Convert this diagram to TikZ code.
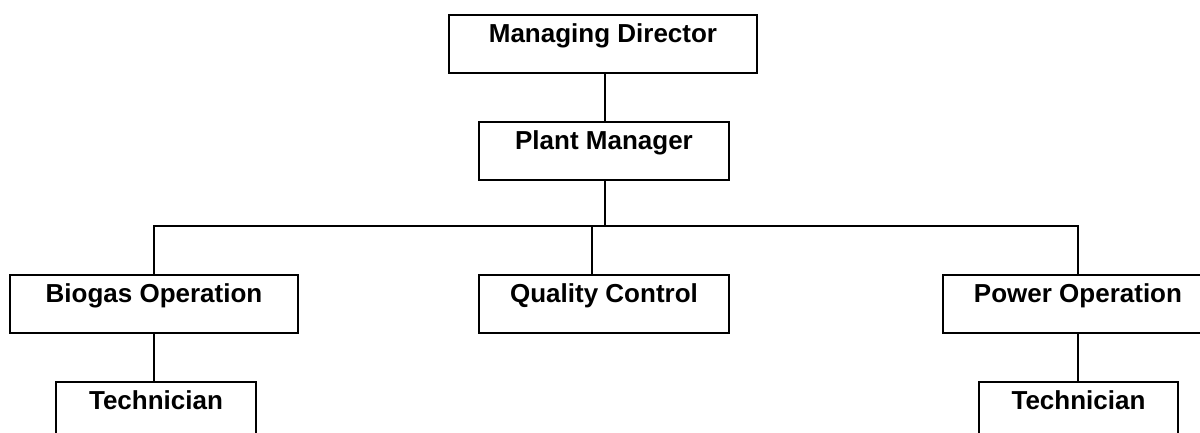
\documentclass[tikz,border=0pt]{standalone}
\usepackage{fontspec}
\setmainfont{Liberation Sans}
\usetikzlibrary{positioning,calc}

\tikzset{
  post/.style={draw, line width=1.6pt, inner sep=0pt, anchor=north,
    text height=28pt, text depth=30pt,
    font=\fontsize{26}{30}\selectfont\bfseries},
  link/.style={line width=1.6pt}
}

\begin{document}
\begin{tikzpicture}[x=1pt,y=-1pt]
  \useasboundingbox (0,0) rectangle (1200,432);
  \clip (0,0) rectangle (1200,432);
  % top of the chart
  \node[post, minimum width=308pt] (md) at (603,14) {Managing Director};
  \node[post, minimum width=250pt] (pm) at (604,121) {Plant Manager};
  % departments
  \node[post, minimum width=288pt] (bio) at (154,274) {Biogas Operation};
  \node[post, minimum width=250pt] (qc) at (604,274) {Quality Control};
  \node[post, minimum width=270pt] (pow) at (1078,274) {Power Operation};
  % technicians
  \node[post, minimum width=200pt] (techb) at (156,381) {Technician};
  \node[post, minimum width=199pt] (techp) at (1078.5,381) {Technician};
  % connectors
  \coordinate (bus) at (605,226);
  \coordinate (qcjoin) at (592,226);
  \draw[link] (605,0 |- md.south) -- (605,0 |- pm.north);
  \draw[link] (605,0 |- pm.south) -- (bus);
  \draw[link] (bio.north) |- (bus) -| (pow.north);
  \draw[link] (qcjoin) -- (qcjoin |- qc.north);
  \draw[link] (bio.south) -- (bio.south |- techb.north);
  \draw[link] (pow.south) -- (pow.south |- techp.north);
\end{tikzpicture}
\end{document}
